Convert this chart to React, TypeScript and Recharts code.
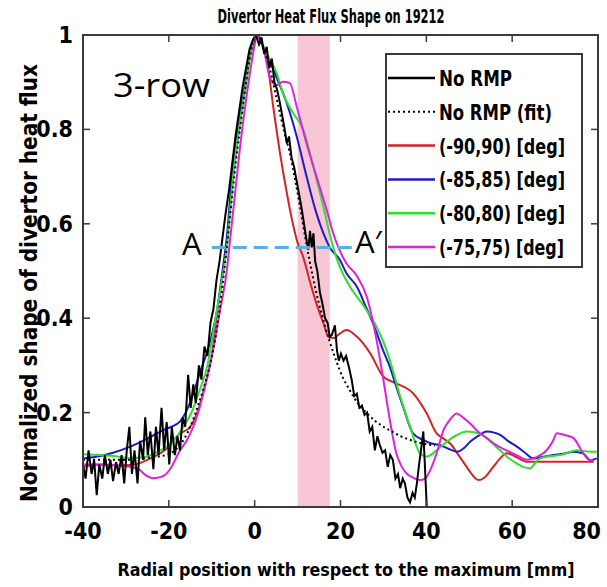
import React from "react";
import {
  LineChart,
  Line,
  XAxis,
  YAxis,
  ReferenceArea,
  ReferenceLine,
  Legend,
} from "recharts";

// ─── Data ───────────────────────────────────────────────────────────────────
const X_TICKS = [-40, -20, 0, 20, 40, 60, 80];
const Y_TICKS = [0, 0.2, 0.4, 0.6, 0.8, 1];

// shaded band & A–A' cut
const BAND = [10, 17.5];
const CUT_Y = 0.55;
const CUT_X = [-10, 23];

const NO_RMP: [number, number][] = [
  [-40, 0.09], [-39.4, 0.06], [-38.7, 0.12], [-38, 0.07], [-37.4, 0.1], [-36.8, 0.025],
  [-36.2, 0.09], [-35.5, 0.06], [-34.9, 0.11], [-34.2, 0.07], [-33.6, 0.1], [-33, 0.055],
  [-32.3, 0.095], [-31.7, 0.07], [-31, 0.11], [-30.4, 0.05], [-29.8, 0.12], [-29.2, 0.17],
  [-28.6, 0.07], [-28, 0.12], [-27.3, 0.05], [-26.7, 0.14], [-26, 0.1], [-25.5, 0.19],
  [-24.9, 0.11], [-24.3, 0.16], [-23.6, 0.08], [-23, 0.17], [-22.4, 0.11], [-21.7, 0.21],
  [-21.1, 0.12], [-20.5, 0.18], [-19.9, 0.09], [-19.3, 0.17], [-18.6, 0.11], [-18, 0.15],
  [-17.4, 0.12], [-16.8, 0.19], [-16.2, 0.17], [-15.5, 0.28], [-14.9, 0.21], [-14.3, 0.26],
  [-13.7, 0.22], [-13, 0.3], [-12.4, 0.27], [-11.7, 0.34], [-11, 0.32], [-10.3, 0.39],
  [-9.6, 0.42], [-8.9, 0.48], [-8.2, 0.52], [-7.5, 0.57], [-6.8, 0.62], [-6, 0.67],
  [-5.2, 0.73], [-4.4, 0.79], [-3.6, 0.84], [-2.8, 0.89], [-2, 0.93], [-1.2, 0.97],
  [-0.4, 0.99], [0.3, 1.0], [1, 0.98], [1.6, 0.995], [2.2, 0.96], [2.8, 0.975],
  [3.4, 0.93], [4, 0.95], [4.6, 0.9], [5.2, 0.885], [5.8, 0.86], [6.4, 0.83],
  [7, 0.8], [7.5, 0.77], [8, 0.785], [8.6, 0.74], [9.2, 0.72], [9.8, 0.69],
  [10.4, 0.66], [11, 0.63], [11.5, 0.6], [12, 0.57], [12.5, 0.545], [12.9, 0.585],
  [13.3, 0.55], [13.7, 0.58], [14.1, 0.52], [14.6, 0.5], [15.2, 0.455], [15.8, 0.43],
  [16.4, 0.4], [17, 0.39], [17.5, 0.36], [18, 0.365], [18.7, 0.385], [19.2, 0.33],
  [19.6, 0.31], [20.1, 0.325], [20.7, 0.31], [21.3, 0.32], [22, 0.295], [22.6, 0.27],
  [23.2, 0.235], [23.8, 0.24], [24.4, 0.21], [25, 0.215], [25.6, 0.195], [26.2, 0.2],
  [26.8, 0.16], [27.4, 0.17], [28, 0.12], [28.6, 0.15], [29.2, 0.13], [29.8, 0.115],
  [30.4, 0.12], [31, 0.085], [31.6, 0.11], [32.2, 0.1], [32.8, 0.06], [33.4, 0.07],
  [33.9, 0.04], [34.5, 0.06], [35, 0.05], [35.6, 0.02], [36.2, 0.01], [36.8, 0.03],
  [37.3, 0.02], [37.8, 0.05], [38.3, 0.09], [38.9, 0.13], [39.3, 0.16], [39.6, 0.1],
  [40.1, 0],
];

const NO_RMP_FIT: [number, number][] = [
  [-40, 0.1], [-30, 0.1], [-25, 0.104], [-20, 0.112], [-17.5, 0.13], [-15, 0.17],
  [-13, 0.22], [-11, 0.28], [-9.5, 0.34], [-8, 0.43], [-6.5, 0.55], [-5, 0.68],
  [-4, 0.76], [-3, 0.83], [-2, 0.9], [-1, 0.96], [0, 0.995], [0.8, 1.0],
  [2, 0.97], [3.5, 0.93], [5, 0.87], [6, 0.83], [7, 0.79], [8.2, 0.75],
  [9.5, 0.69], [10.5, 0.64], [12, 0.56], [13.5, 0.49], [15, 0.43], [16.5, 0.38],
  [17.5, 0.35], [19, 0.31], [20.5, 0.275], [22, 0.25], [24, 0.22], [26, 0.2],
  [28, 0.183], [30, 0.17], [32, 0.16], [34, 0.15], [36, 0.143], [38, 0.137],
  [40, 0.133], [42, 0.13],
];

const DEG_90: [number, number][] = [
  [-40, 0.085], [-36, 0.09], [-32, 0.088], [-28, 0.09], [-25, 0.1], [-21, 0.12],
  [-17.5, 0.155], [-15, 0.17], [-13, 0.21], [-11.5, 0.26], [-10, 0.32], [-8.9, 0.4],
  [-7.5, 0.49], [-6.5, 0.56], [-5, 0.7], [-3.5, 0.81], [-2, 0.9], [-1, 0.96],
  [0, 0.99], [0.7, 1.0], [1.5, 0.985], [2.8, 0.95], [4.3, 0.85], [5.9, 0.75],
  [7.4, 0.67], [8.9, 0.6], [10, 0.56], [11.3, 0.53], [12.8, 0.48], [14.4, 0.431],
  [16, 0.39], [17.2, 0.361], [18.5, 0.358], [19.5, 0.365], [21.4, 0.375], [23.8, 0.361],
  [26.9, 0.326], [30, 0.276], [33, 0.262], [36.9, 0.241], [40.1, 0.198], [42.4, 0.156],
  [44, 0.145], [45.5, 0.135], [47.5, 0.11], [49.4, 0.085], [51, 0.065], [52.1, 0.057],
  [53.5, 0.062], [55.6, 0.085], [57.2, 0.103], [58.7, 0.114], [60.5, 0.108], [63.4, 0.096],
  [66, 0.096], [70, 0.096], [75, 0.096], [79, 0.096],
];

const DEG_85: [number, number][] = [
  [-40, 0.103], [-36, 0.108], [-33, 0.115], [-29, 0.128], [-25, 0.145], [-21.3, 0.163],
  [-17.4, 0.181], [-15.1, 0.22], [-12.8, 0.283], [-10.4, 0.35], [-8.9, 0.41], [-7.5, 0.5],
  [-6.5, 0.57], [-5, 0.735], [-3.5, 0.83], [-2.3, 0.89], [-1, 0.96], [0, 0.99],
  [0.5, 1.0], [1.5, 0.985], [2.8, 0.96], [5.1, 0.91], [7.5, 0.855], [9.8, 0.785],
  [12.1, 0.7], [14.4, 0.622], [16, 0.58], [17.5, 0.55], [19.9, 0.523], [21.4, 0.495],
  [23.8, 0.467], [26.1, 0.42], [27.6, 0.389], [30, 0.33], [31.5, 0.297], [33, 0.255],
  [34.6, 0.212], [36.9, 0.156], [39.3, 0.142], [41, 0.135], [43.2, 0.131], [45, 0.124],
  [47.1, 0.117], [48.8, 0.125], [50.2, 0.138], [52, 0.15], [54.1, 0.16], [56, 0.157],
  [57.2, 0.153], [59, 0.14], [61.1, 0.128], [63, 0.115], [65, 0.103], [67, 0.106],
  [69.6, 0.11], [72, 0.113], [74.3, 0.117], [76.6, 0.113], [78.2, 0.099], [79.7, 0.103],
];

const DEG_80: [number, number][] = [
  [-40, 0.112], [-36, 0.11], [-33, 0.108], [-29, 0.104], [-26, 0.105], [-23, 0.115],
  [-20.5, 0.128], [-18.5, 0.145], [-16.6, 0.17], [-14.5, 0.205], [-12.8, 0.248], [-11, 0.3],
  [-9.7, 0.368], [-8, 0.46], [-6.5, 0.55], [-5, 0.7], [-3.5, 0.81], [-2, 0.9],
  [-1, 0.96], [0, 0.99], [0.5, 1.0], [1.5, 0.985], [2.8, 0.96], [5.1, 0.92],
  [6.6, 0.876], [9, 0.834], [11.3, 0.8], [13.7, 0.72], [16, 0.636], [18.3, 0.55],
  [20, 0.505], [22.2, 0.467], [26.1, 0.417], [28.4, 0.382], [30, 0.35], [31.5, 0.311],
  [33.9, 0.234], [36.2, 0.17], [38.5, 0.114], [40.1, 0.107], [42.4, 0.12], [44.7, 0.138],
  [47, 0.152], [49.4, 0.16], [52.5, 0.155], [55, 0.138], [57.2, 0.12], [59, 0.105],
  [61.1, 0.092], [62.5, 0.085], [64.2, 0.082], [65.5, 0.095], [66.5, 0.103], [69, 0.108],
  [71.2, 0.11], [73, 0.115], [75, 0.12], [77, 0.118], [79.7, 0.117],
];

const DEG_75: [number, number][] = [
  [-40, 0.09], [-36, 0.09], [-32, 0.088], [-29, 0.085], [-27, 0.08], [-25.5, 0.068],
  [-23.7, 0.061], [-21.5, 0.065], [-19.7, 0.08], [-17.4, 0.12], [-15.9, 0.14], [-14.3, 0.17],
  [-12.8, 0.212], [-11.2, 0.27], [-9.7, 0.333], [-8, 0.42], [-6.5, 0.5], [-5.8, 0.56],
  [-4.5, 0.67], [-3.4, 0.763], [-2.2, 0.85], [-1.1, 0.92], [0, 0.98], [0.5, 1.0],
  [1.2, 0.99], [2.1, 0.97], [3.6, 0.908], [5.1, 0.894], [6.6, 0.901], [8.2, 0.898],
  [9.8, 0.848], [12.1, 0.77], [14.4, 0.7], [16.8, 0.629], [18.3, 0.58], [19.5, 0.55],
  [21.4, 0.516], [23.8, 0.49], [26.1, 0.446], [28.4, 0.354], [30, 0.269], [31.5, 0.184],
  [33, 0.114], [34.3, 0.085], [35.4, 0.071], [37, 0.062], [38.5, 0.057], [39.7, 0.06],
  [40.9, 0.078], [42.4, 0.114], [44, 0.163], [45.5, 0.185], [47.1, 0.198], [48.5, 0.19],
  [50.2, 0.177], [52, 0.16], [54.1, 0.146], [56.5, 0.13], [58.7, 0.12], [61, 0.11],
  [63.4, 0.1], [65.5, 0.105], [68, 0.12], [69.5, 0.14], [70.4, 0.156], [72.5, 0.152],
  [74.3, 0.146], [75.5, 0.13], [76.6, 0.113], [78, 0.1], [78.9, 0.099],
];

// ─── Styling ────────────────────────────────────────────────────────────────
const W = 607;
const H = 587;
const PLOT = { left: 83, top: 35, right: 598, bottom: 507 };
const FRAME = "#3a3a3a";
const NARROW = "'DejaVu Sans Condensed', 'Liberation Sans Narrow', sans-serif";
const SANS = "'Open Sans', 'Noto Sans', sans-serif";

const RED = "#d42424";
const BLUE = "#1c1cc8";
const GREEN = "#2ee02e";
const MAGENTA = "#e020e0";

const toPts = (arr: [number, number][]) => arr.map(([x, y]) => ({ x, y }));

const SERIES = [
  { key: "noRmp", name: "No RMP", data: NO_RMP, color: "#000", dash: undefined, w: 73 },
  { key: "fit", name: "No RMP (fit)", data: NO_RMP_FIT, color: "#000", dash: "2 3", w: 113 },
  { key: "d90", name: "(-90,90) [deg]", data: DEG_90, color: RED, dash: undefined, w: 126 },
  { key: "d85", name: "(-85,85) [deg]", data: DEG_85, color: BLUE, dash: undefined, w: 126 },
  { key: "d80", name: "(-80,80) [deg]", data: DEG_80, color: GREEN, dash: undefined, w: 126 },
  { key: "d75", name: "(-75,75) [deg]", data: DEG_75, color: MAGENTA, dash: undefined, w: 125 },
];
// black on top of the coloured curves, the fit on top of everything
const DRAW_ORDER = ["d90", "d85", "d80", "d75", "noRmp", "fit"];

// ─── Ticks (inward, mirrored on the opposite side) ─────────────────────────
function XTick(props: any) {
  const { x, y, payload } = props;
  const h = PLOT.bottom - PLOT.top;
  const last = payload.value === X_TICKS[X_TICKS.length - 1];
  return (
    <g>
      <line x1={x} x2={x} y1={y} y2={y - 7} stroke={FRAME} strokeWidth={1.5} />
      <line x1={x} x2={x} y1={y - h} y2={y - h + 7} stroke={FRAME} strokeWidth={1.5} />
      <text
        x={last ? x + 3 : x}
        y={y + 32}
        textAnchor={last ? "end" : "middle"}
        fontFamily={NARROW}
        fontWeight="bold"
        fontSize={23}
        fill="#000"
      >
        {String(payload.value)}
      </text>
    </g>
  );
}

function YTick(props: any) {
  const { x, y, payload } = props;
  const w = PLOT.right - PLOT.left;
  const v = payload.value as number;
  const label = v === 0 || v === 1 ? String(v) : v.toFixed(1);
  return (
    <g>
      <line x1={x} x2={x + 7} y1={y} y2={y} stroke={FRAME} strokeWidth={1.5} />
      <line x1={x + w} x2={x + w - 7} y1={y} y2={y} stroke={FRAME} strokeWidth={1.5} />
      <text
        x={x - 10}
        y={y + 8}
        textAnchor="end"
        fontFamily={NARROW}
        fontWeight="bold"
        fontSize={23}
        fill="#000"
      >
        {label}
      </text>
    </g>
  );
}

// ─── Legend box ─────────────────────────────────────────────────────────────
function LegendBox() {
  return (
    <svg width={198} height={215} style={{ display: "block", overflow: "visible" }}>
      <rect x={1} y={1} width={196} height={213} fill="#fff" stroke={FRAME} strokeWidth={2} />
      {SERIES.map((s, i) => {
        const cy = 25 + i * 33.8;
        return (
          <g key={s.key}>
            <line
              x1={3}
              x2={50}
              y1={cy}
              y2={cy}
              stroke={s.color}
              strokeWidth={s.dash ? 2 : 2.5}
              strokeDasharray={s.dash}
            />
            <text
              x={54}
              y={cy + 8}
              fontFamily={NARROW}
              fontWeight="bold"
              fontSize={22}
              textLength={s.w}
              lengthAdjust="spacingAndGlyphs"
              fill="#000"
            >
              {s.name}
            </text>
          </g>
        );
      })}
    </svg>
  );
}

export default function App() {
  const byKey = Object.fromEntries(SERIES.map((s) => [s.key, s]));
  return (
    <div style={{ position: "absolute", left: 0, top: 0, width: W, height: H, background: "#fff" }}>
      <LineChart
        width={W}
        height={H}
        margin={{ top: 35, right: 9, bottom: 40, left: 43 }}
      >
        <ReferenceArea
          x1={BAND[0]}
          x2={BAND[1]}
          y1={0}
          y2={1}
          fill="#f8c6d4"
          fillOpacity={1}
          stroke="none"
          ifOverflow="hidden"
        />
        <XAxis
          type="number"
          dataKey="x"
          domain={[-40, 80]}
          ticks={X_TICKS}
          interval={0}
          allowDataOverflow
          height={40}
          tickSize={0}
          tickMargin={0}
          tickLine={false}
          axisLine={false}
          tick={(p: any) => <XTick {...p} />}
        />
        <YAxis
          type="number"
          dataKey="y"
          domain={[0, 1]}
          ticks={Y_TICKS}
          interval={0}
          allowDataOverflow
          width={40}
          tickSize={0}
          tickMargin={0}
          tickLine={false}
          axisLine={false}
          tick={(p: any) => <YTick {...p} />}
        />
        {DRAW_ORDER.map((k) => {
          const s = byKey[k];
          return (
            <Line
              key={s.key}
              data={toPts(s.data)}
              dataKey="y"
              name={s.name}
              type={s.key === "noRmp" ? "linear" : "monotone"}
              stroke={s.color}
              strokeWidth={2}
              strokeDasharray={s.dash}
              dot={false}
              activeDot={false}
              isAnimationActive={false}
            />
          );
        })}
        <ReferenceLine
          segment={[
            { x: CUT_X[0], y: CUT_Y },
            { x: CUT_X[1], y: CUT_Y },
          ]}
          stroke="#58aee6"
          strokeWidth={3}
          strokeDasharray="14 7"
        />
        <Legend
          layout="vertical"
          align="center"
          verticalAlign="middle"
          content={() => <LegendBox />}
          wrapperStyle={{ top: 53, left: 385, width: 198, height: 215 }}
        />
      </LineChart>

      <svg
        width={W}
        height={H}
        style={{ position: "absolute", left: 0, top: 0, pointerEvents: "none" }}
      >
        <rect
          x={PLOT.left}
          y={PLOT.top}
          width={PLOT.right - PLOT.left}
          height={PLOT.bottom - PLOT.top}
          fill="none"
          stroke={FRAME}
          strokeWidth={2}
        />
        <text
          x={331}
          y={23}
          textAnchor="middle"
          fontFamily={NARROW}
          fontWeight="bold"
          fontSize={20}
          textLength={227}
          lengthAdjust="spacingAndGlyphs"
        >
          Divertor Heat Flux Shape on 19212
        </text>
        <text
          x={346}
          y={576}
          textAnchor="middle"
          fontFamily={NARROW}
          fontWeight="bold"
          fontSize={18.5}
          textLength={457}
          lengthAdjust="spacingAndGlyphs"
        >
          Radial position with respect to the maximum [mm]
        </text>
        <text
          transform="translate(37,283) rotate(-90)"
          textAnchor="middle"
          fontFamily={NARROW}
          fontWeight="bold"
          fontSize={23}
          textLength={438}
          lengthAdjust="spacingAndGlyphs"
        >
          Normalized shape of divertor heat flux
        </text>
        <text x={113} y={97} fontFamily={SANS} fontSize={32} textLength={97} lengthAdjust="spacingAndGlyphs">
          3-row
        </text>
        <text x={182} y={255} fontFamily={SANS} fontSize={31}>
          A
        </text>
        <text x={355} y={253} fontFamily={SANS} fontSize={31}>
          A′
        </text>
      </svg>
    </div>
  );
}
